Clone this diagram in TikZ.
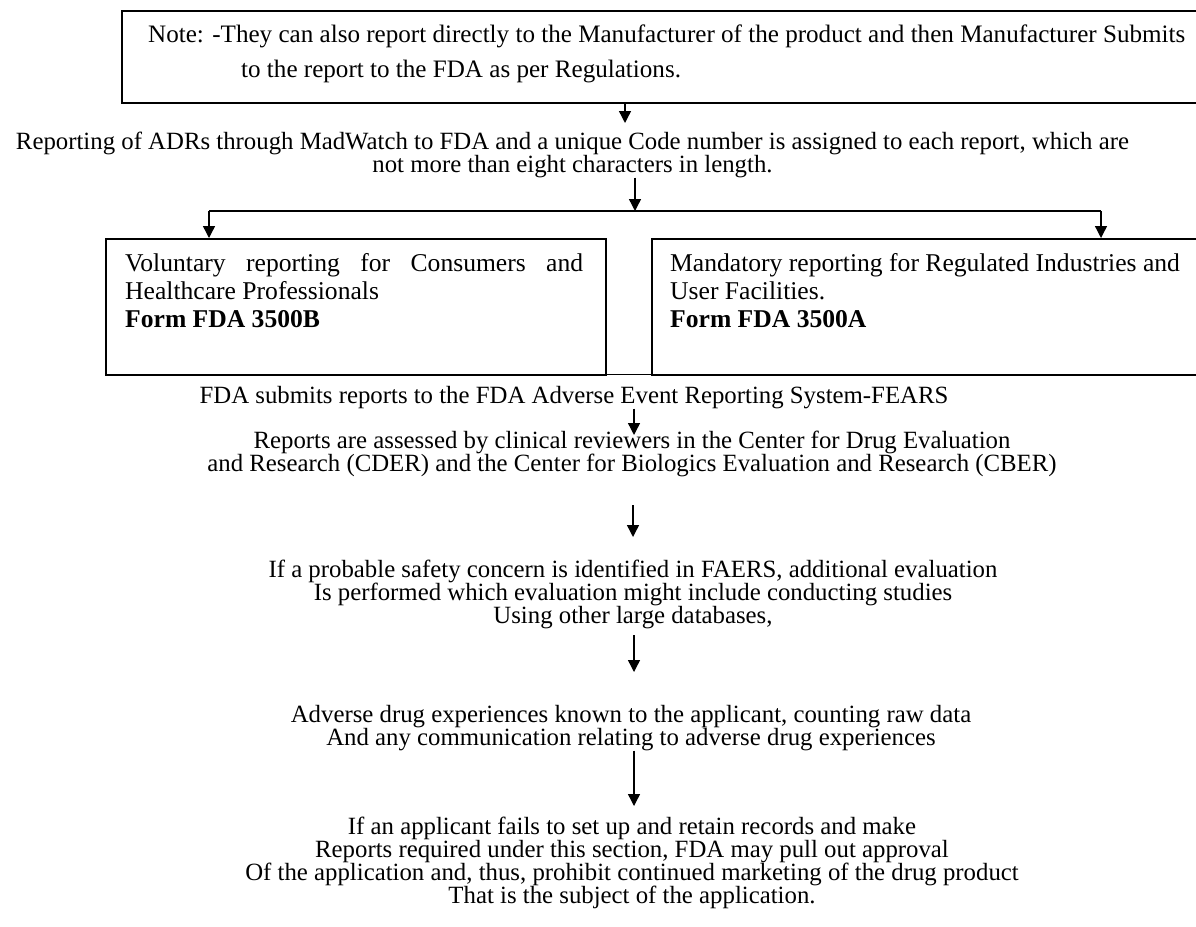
\documentclass[tikz,border=0pt]{standalone}
\usepackage{fontspec}
\setmainfont{Liberation Serif}
\usetikzlibrary{arrows.meta}
\begin{document}
\begin{tikzpicture}[x=1pt,y=-1pt,
  arr/.style={line width=1.4pt,-{Triangle[width=12pt,length=12pt]}},
  ln/.style={line width=1.4pt},
  frame/.style={draw, line width=1.8pt, inner sep=0pt, anchor=north west},
  txt/.style={inner sep=0pt, align=center, anchor=base, font={\fontsize{24.8}{23}\selectfont\lineskiplimit=-100pt\relax}},
  btxt/.style={inner sep=0pt, align=left, anchor=base west, font=\fontsize{25.6}{28}\selectfont},
  ntxt/.style={inner sep=0pt, align=left, anchor=base west, font=\fontsize{25.1}{35}\selectfont},
]
\path[use as bounding box, clip] (0,0) rectangle (1196,926);
\fill[white] (0,0) rectangle (1196,926);

% top note box
\node[frame, minimum width=1100pt, minimum height=92pt] (notebox) at (121,10) {};
\node[ntxt] (note) at (148,77) {Note: -They can also report directly to the Manufacturer of the product and then Manufacturer Submits\\\hspace*{93pt}to the report to the FDA as per Regulations.};

% reporting text
\node[txt] (rep) at (572.5,172) {Reporting of ADRs through MadWatch to FDA and a unique Code number is assigned to each report, which are\\not more than eight characters in length.};

% two boxes
\node[frame, minimum width=500pt, minimum height=136pt] (vbox) at (105,238) {};
\node[frame, minimum width=560pt, minimum height=136pt] (mbox) at (651,238) {};
\draw[line width=0.8pt] (205,374) -- (1095,374);
\node[btxt] (vtxt) at (125,327) {\makebox[458pt][s]{Voluntary reporting for Consumers and}\\Healthcare Professionals\\\textbf{Form FDA 3500B}};
\node[btxt] (mtxt) at (670,327) {Mandatory reporting for Regulated Industries and\\User Facilities.\\\textbf{Form FDA 3500A}};

% lower chain
\node[txt] (fda) at (574,403) {FDA submits reports to the FDA Adverse Event Reporting System-FEARS};
\node[txt] (rev) at (632,471) {Reports are assessed by clinical reviewers in the Center for Drug Evaluation\\and Research (CDER) and the Center for Biologics Evaluation and Research (CBER)};
\node[txt] (prob) at (633,623) {If a probable safety concern is identified in FAERS, additional evaluation\\Is performed which evaluation might include conducting studies\\Using other large databases,};
\node[txt] (adv) at (631,745) {Adverse drug experiences known to the applicant, counting raw data\\And any communication relating to adverse drug experiences};
\node[txt] (fail) at (632,903) {If an applicant fails to set up and retain records and make\\Reports required under this section, FDA may pull out approval\\Of the application and, thus, prohibit continued marketing of the drug product\\That is the subject of the application.};

% connectors
\coordinate (t1) at (625,123);
\draw[arr] (t1 |- notebox.south) -- (t1);
\coordinate (j) at (635,211);
\coordinate (jl) at (209,211);
\coordinate (jr) at (1101,211);
\draw[arr] (rep.south -| j) -- (j);
\draw[ln] (jl) -- (jr);
\draw[arr] (jl) -- (vbox.north -| jl);
\draw[arr] (jr) -- (mbox.north -| jr);
\coordinate (t3) at (634,435);
\draw[arr] (fda.south -| t3) -- (t3);
\coordinate (a4s) at (633,505);
\coordinate (a4e) at (633,537);
\draw[arr] (a4s) -- (a4e);
\coordinate (a5s) at (634,635);
\coordinate (a5e) at (634,672);
\draw[arr] (a5s) -- (a5e);
\coordinate (a6e) at (634,806);
\draw[arr] (adv.south -| a6e) -- (a6e);
\end{tikzpicture}
\end{document}
